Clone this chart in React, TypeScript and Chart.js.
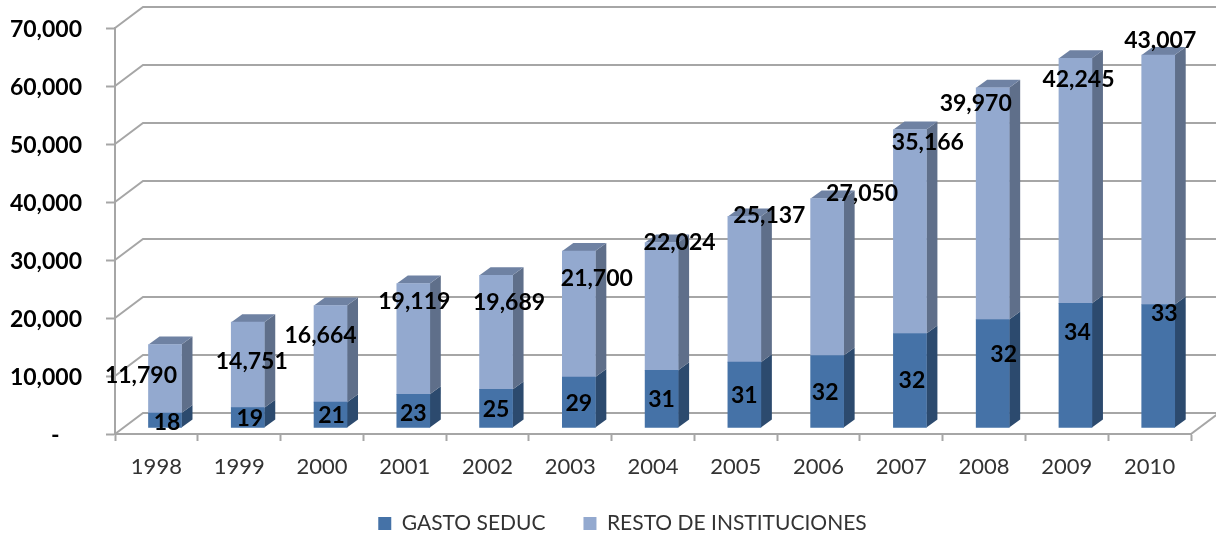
import React, { useEffect, useRef } from "react";
import { Chart, registerables } from "chart.js";

Chart.register(...registerables);

const years = ["1998","1999","2000","2001","2002","2003","2004","2005","2006","2007","2008","2009","2010"];
// segment heights
const gastoSeduc = [2590,3500,4450,5800,6650,8800,9950,11350,12500,16300,18700,21500,21300];
const restoInstituciones = [11790,14751,16664,19119,19689,21700,22024,25137,27050,35166,39970,42245,43007];
// printed labels of the first series (share, %)
const gastoLabels = ["18","19","21","23","25","29","31","31","32","32","32","34","33"];
const restoLabels = ["11,790","14,751","16,664","19,119","19,689","21,700","22,024","25,137","27,050","35,166","39,970","42,245","43,007"];

// hand-placed label nudges from segment centre, as in the source chart
const gastoNudge: [number, number][] = [[2,1],[2,0],[1,0],[0,2],[0,0],[0,0],[0,0],[0,0],[-2,0],[2,-1],[11,-20],[2,-34],[6,-53]];
const restoNudge: [number, number][] = [[-24,-4],[4,-4],[-10,-19],[1,-38],[13,-31],[18,-36],[18,-65],[25,-75],[35,-84],[18,-90],[-17,-101],[3,-102],[2,-140]];

const FONT = "Lato, 'Noto Sans', sans-serif";
const WALL = "#a6a6a6";
const DX = 28, DY = -21;      // depth of the floor
const BX = 8.6, BY = -6;      // bar position inside the floor
const SX = 11, SY = -8;       // bar depth

const faces = [
  { side: "#2c4a6e", top: "#2c4a6e" },
  { side: "#5f6f8a", top: "#6f82a3" },
];

const box3d = {
  id: "box3d",
  afterLayout(chart: any) {
    chart.legend.left = 54;
  },
  beforeDatasetsDraw(chart: any) {
    const { ctx, chartArea: a, scales: { y } } = chart;
    ctx.save();
    ctx.strokeStyle = WALL;
    ctx.lineWidth = 2;
    y.ticks.forEach((t: any) => {
      const py = y.getPixelForValue(t.value);
      ctx.beginPath();
      ctx.moveTo(a.left, py);
      ctx.lineTo(a.left + DX, py + DY);
      ctx.lineTo(a.right + DX, py + DY);
      ctx.stroke();
    });
    const p0 = y.getPixelForValue(0);
    ctx.beginPath();
    ctx.moveTo(a.right, p0);
    ctx.lineTo(a.right + DX, p0 + DY);
    ctx.stroke();
    ctx.restore();

    ctx.save();
    ctx.translate(BX, BY);
    chart.data.datasets.forEach((_: any, di: number) => {
      chart.getDatasetMeta(di).data.forEach((el: any) => {
        const r = el.x + el.width / 2, l = el.x - el.width / 2;
        ctx.fillStyle = faces[di].side;
        ctx.beginPath();
        ctx.moveTo(r, el.y);
        ctx.lineTo(r + SX, el.y + SY);
        ctx.lineTo(r + SX, el.base + SY);
        ctx.lineTo(r, el.base);
        ctx.closePath();
        ctx.fill();
        if (di === 1) {
          ctx.fillStyle = faces[di].top;
          ctx.beginPath();
          ctx.moveTo(l, el.y);
          ctx.lineTo(l + SX, el.y + SY);
          ctx.lineTo(r + SX, el.y + SY);
          ctx.lineTo(r, el.y);
          ctx.closePath();
          ctx.fill();
        }
      });
    });
  },
  afterDatasetsDraw(chart: any) {
    const { ctx } = chart;
    ctx.restore();
    ctx.save();
    ctx.fillStyle = "#000";
    ctx.font = `bold 23px ${FONT}`;
    ctx.textAlign = "center";
    ctx.textBaseline = "middle";
    const sets: [string[], [number, number][]][] = [[gastoLabels, gastoNudge], [restoLabels, restoNudge]];
    sets.forEach(([labels, nudge], di) => {
      chart.getDatasetMeta(di).data.forEach((el: any, i: number) => {
        ctx.fillText(labels[i], el.x + BX + nudge[i][0], (el.y + el.base) / 2 + BY + nudge[i][1] + 1);
      });
    });
    ctx.restore();
  },
};

export default function App() {
  const ref = useRef<HTMLCanvasElement>(null);
  useEffect(() => {
    const chart = new Chart(ref.current!, {
      type: "bar",
      data: {
        labels: years,
        datasets: [
          { label: "GASTO SEDUC", data: gastoSeduc, backgroundColor: "#4572a7", barThickness: 33, clip: false },
          { label: "RESTO DE INSTITUCIONES", data: restoInstituciones, backgroundColor: "#93a9cf", barThickness: 33, clip: false },
        ],
      } as any,
      options: {
        responsive: false,
        animation: false,
        layout: { padding: { left: 0, right: 25, top: 28, bottom: 0 } },
        plugins: {
          tooltip: { enabled: false },
          legend: {
            position: "bottom",
            maxHeight: 58,
            labels: { boxWidth: 13, boxHeight: 13, padding: 38, color: "#333333", font: { family: FONT, size: 21 } },
          },
        },
        scales: {
          x: {
            stacked: true,
            offset: true,
            afterFit: (s: any) => { s.height = 41; s.paddingLeft = 0; s.paddingRight = 0; },
            grid: { offset: true, drawOnChartArea: false, drawTicks: true, tickLength: 7, tickColor: WALL, tickWidth: 2 },
            border: { display: true, color: WALL, width: 2 },
            ticks: { color: "#333333", font: { family: FONT, size: 22 }, padding: 13, maxRotation: 0, autoSkip: false },
          },
          y: {
            stacked: true,
            min: 0,
            max: 70000,
            afterFit: (s: any) => { s.width = 115; s.paddingTop = 0; s.paddingBottom = 0; },
            grid: { drawOnChartArea: false, drawTicks: true, tickLength: 9, tickColor: WALL, tickWidth: 2 },
            border: { display: true, color: WALL, width: 2 },
            ticks: {
              stepSize: 10000,
              color: "#000",
              padding: 24,
              labelOffset: 2,
              font: { family: FONT, size: 23, weight: "bold" },
              callback: (v: any) => (Number(v) === 0 ? "-    " : Number(v).toLocaleString("en-US")),
            },
          },
        },
      } as any,
      plugins: [box3d],
    });
    return () => chart.destroy();
  }, []);
  return (
    <div style={{ position: "absolute", left: 0, top: 0, width: 1216, height: 533, background: "#fff" }}>
      <canvas ref={ref} width={1216} height={533} style={{ display: "block" }} />
    </div>
  );
}
